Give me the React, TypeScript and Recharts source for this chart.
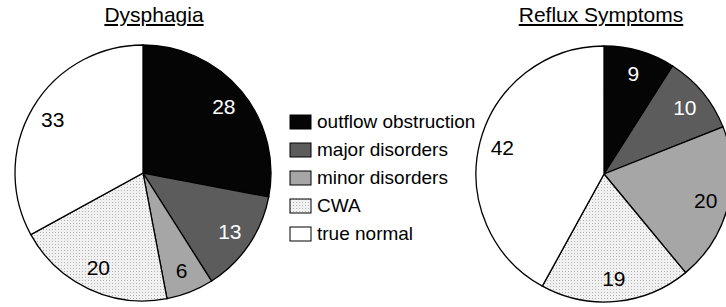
import * as React from "react";
import { PieChart, Pie, Cell } from "recharts";

const categories = ["outflow obstruction", "major disorders", "minor disorders", "CWA", "true normal"];
const dysphagiaValues = [28, 13, 6, 20, 33];
const refluxValues = [9, 10, 20, 19, 42];
const titles = ["Dysphagia", "Reflux Symptoms"];

const fills = ["#050505", "#5c5c5c", "#a6a6a6", "url(#cwaDots)", "#ffffff"];
const labelColors = ["#ffffff", "#ffffff", "#000000", "#000000", "#000000"];

const dysphagiaData = categories.map((name, i) => ({ name, value: dysphagiaValues[i] }));
const refluxData = categories.map((name, i) => ({ name, value: refluxValues[i] }));

const FONT = "'Liberation Sans', Arial, sans-serif";
const RADIAN = Math.PI / 180;

const renderLabel = (props: any) => {
  const { cx, cy, midAngle, outerRadius, index, value } = props;
  const r = outerRadius * 0.82;
  const x = cx + r * Math.cos(-midAngle * RADIAN);
  const y = cy + r * Math.sin(-midAngle * RADIAN);
  return (
    <text
      x={x}
      y={y}
      fill={labelColors[index]}
      textAnchor="middle"
      dominantBaseline="central"
      fontSize={21}
      fontFamily={FONT}
    >
      {value}
    </text>
  );
};

export default function App() {
  return (
    <div style={{ position: "absolute", left: 0, top: 0, width: 726, height: 307, background: "#fff", overflow: "hidden" }}>
      <svg width={0} height={0} style={{ position: "absolute" }}>
        <defs>
          <pattern id="cwaDots" width={3} height={3} patternUnits="userSpaceOnUse">
            <rect width={3} height={3} fill="#f1f1f1" />
            <rect x={1} y={1} width={1} height={1} fill="#b5b5b5" />
          </pattern>
        </defs>
      </svg>
      <div
        style={{
          position: "absolute",
          left: 54,
          width: 200,
          top: 3,
          textAlign: "center",
          fontFamily: FONT,
          fontSize: 21,
          textDecoration: "underline",
        }}
      >
        {titles[0]}
      </div>
      <div
        style={{
          position: "absolute",
          left: 451,
          width: 300,
          top: 3,
          textAlign: "center",
          fontFamily: FONT,
          fontSize: 21,
          textDecoration: "underline",
        }}
      >
        {titles[1]}
      </div>
      <PieChart
        width={726}
        height={307}
        margin={{ top: 0, right: 0, bottom: 0, left: 0 }}
        style={{ position: "absolute", left: 0, top: 0 }}
      >
        <Pie
          data={dysphagiaData}
          dataKey="value"
          nameKey="name"
          cx={143}
          cy={173}
          outerRadius={128}
          startAngle={90}
          endAngle={-270}
          stroke="#000"
          strokeWidth={1.3}
          label={renderLabel}
          labelLine={false}
          isAnimationActive={false}
        >
          {dysphagiaData.map((d, i) => (
            <Cell key={d.name} fill={fills[i]} />
          ))}
        </Pie>
        <Pie
          data={refluxData}
          dataKey="value"
          nameKey="name"
          cx={604}
          cy={174}
          outerRadius={128}
          startAngle={90}
          endAngle={-270}
          stroke="#000"
          strokeWidth={1.3}
          label={renderLabel}
          labelLine={false}
          isAnimationActive={false}
        >
          {refluxData.map((d, i) => (
            <Cell key={d.name} fill={fills[i]} />
          ))}
        </Pie>
      </PieChart>
      <div style={{ position: "absolute", left: 289, top: 108, fontFamily: FONT, fontSize: 19 }}>
        {categories.map((c, i) => (
          <div key={c} style={{ display: "flex", alignItems: "center", height: 28 }}>
            <svg width={24} height={16} style={{ marginRight: 4 }}>
              <rect x={1} y={1} width={21} height={14} fill={fills[i]} stroke="#000" strokeWidth={1} />
            </svg>
            <span>{c}</span>
          </div>
        ))}
      </div>
    </div>
  );
}
